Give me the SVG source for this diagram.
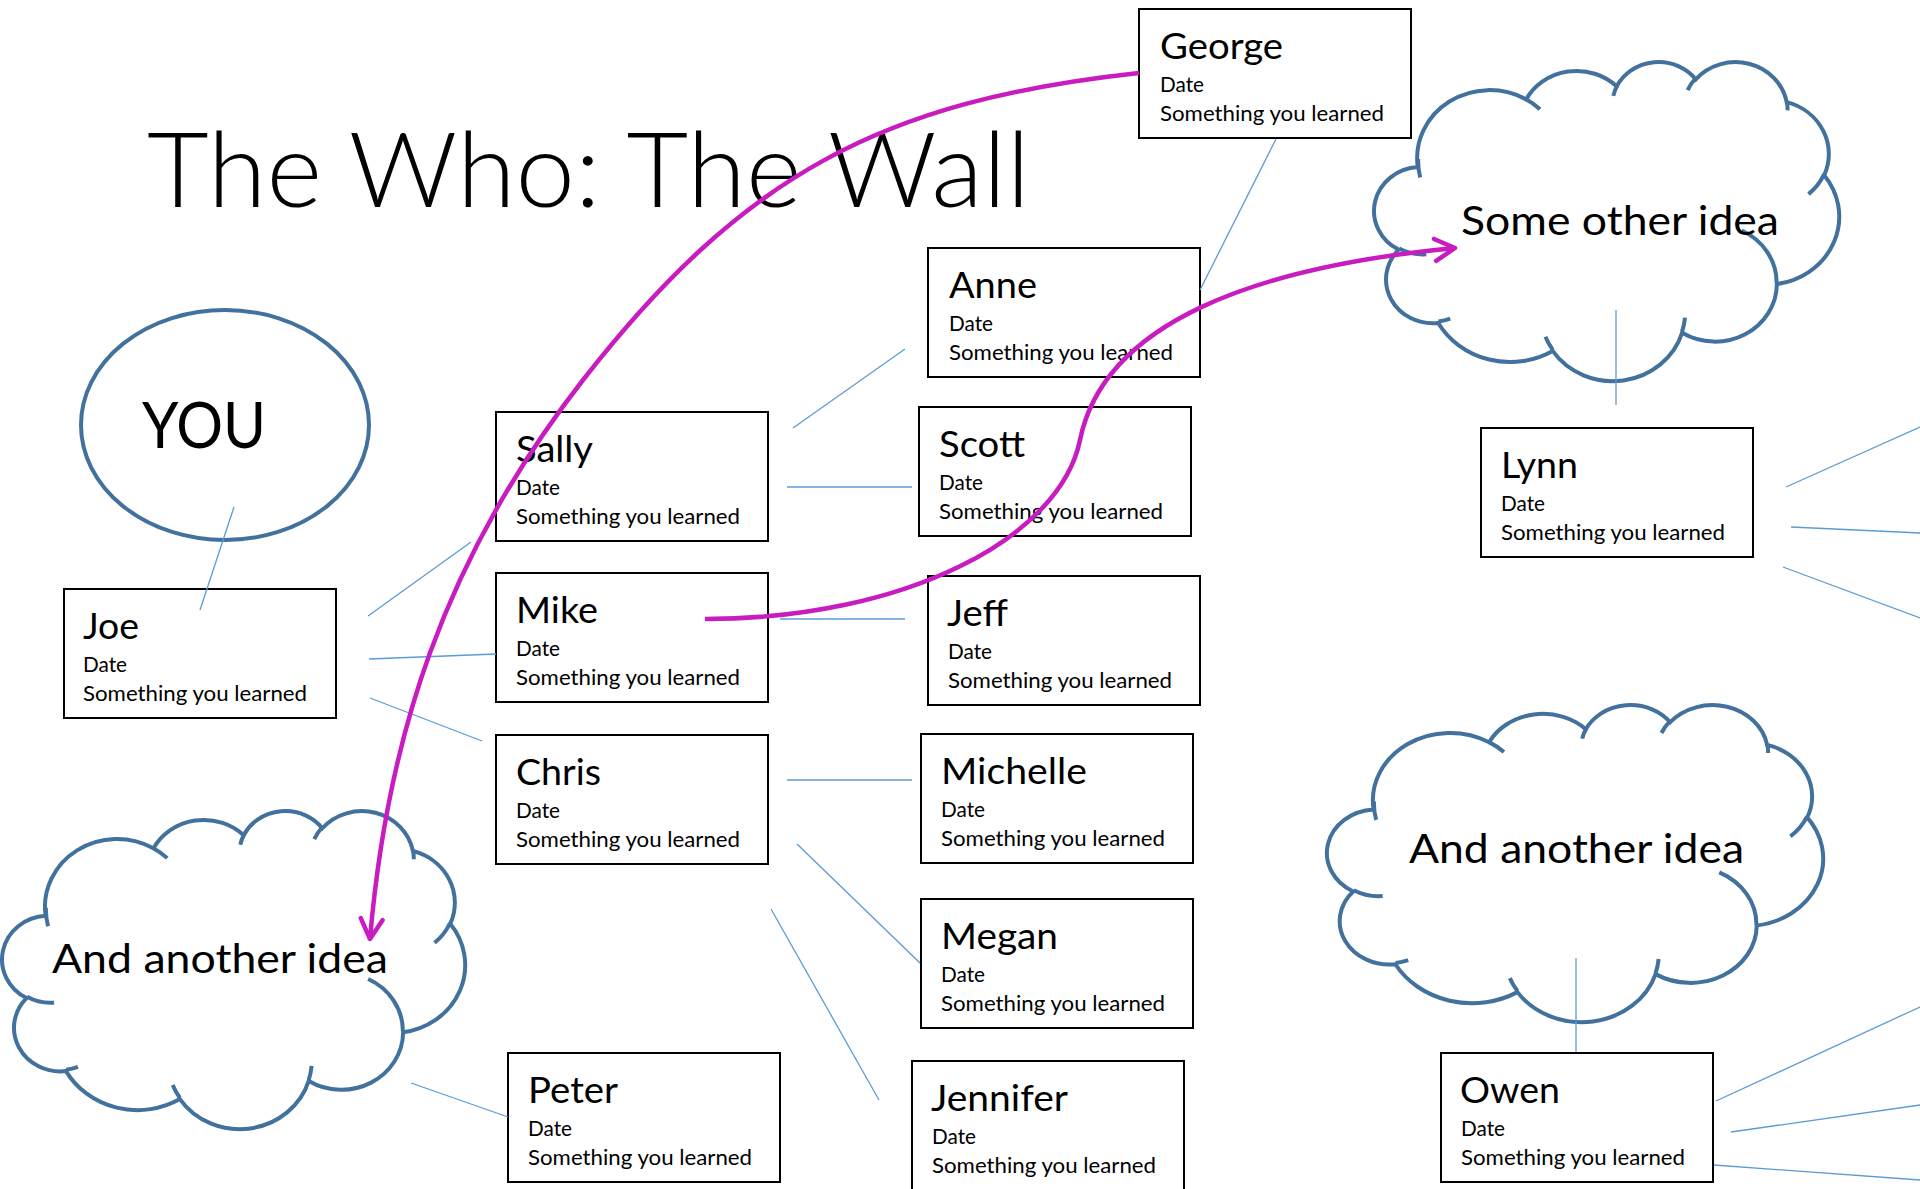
<svg xmlns="http://www.w3.org/2000/svg" xmlns:xlink="http://www.w3.org/1999/xlink" width="1920" height="1189" viewBox="0 0 1920 1189">
<style>
  text { font-family: Lato, "Open Sans", "Liberation Sans", sans-serif; fill: #000; }
  .box { fill: #fff; stroke: #000; stroke-width: 2; }
  .nm { font-size: 37px; }
  .sm { font-size: 21px; }
  .big { font-size: 41px; }
  .shape { fill: #fff; stroke: #41719C; stroke-width: 4; }
  .conn line { stroke: #5B9BD5; stroke-width: 1.3; }
  .hl path { fill: none; stroke: #C81CC0; stroke-width: 4.5; marker-end: url(#ah); }
</style>
<defs>
  <marker id="ah" markerUnits="userSpaceOnUse" viewBox="-26 -16 32 32" markerWidth="32" markerHeight="32" refX="0" refY="0" orient="auto">
    <path d="M-20,-11 L0,0 L-20,11" fill="none" stroke="#C81CC0" stroke-width="4.5" stroke-linejoin="round" stroke-linecap="round"/>
  </marker>
  <g id="cloudShape">
    <path vector-effect="non-scaling-stroke" fill="#fff" stroke="#41719C" stroke-width="4" d="M3900 14370 A6753 9190 0 0 1 14005 5202 A5333 7267 0 0 1 22456 3433 A4365 5945 0 0 1 29834 2482 A4857 6595 0 0 1 38319 5577 A5333 7273 0 0 1 41819 15460 A6775 9220 0 0 1 37404 30202 A5785 7867 0 0 1 28556 36812 A6752 9215 0 0 1 16481 39265 A7720 10543 0 0 1 5805 35470 A4360 5918 0 0 1 2113 25548 A4345 5945 0 0 1 3900 14370 Z"/>
    <path vector-effect="non-scaling-stroke" fill="none" stroke="#41719C" stroke-width="4" d="M4693 26177 A4345 5945 0 0 1 2160 25380 M6928 34899 A4360 5918 0 0 1 5820 35281 M16478 39090 A6752 9215 0 0 1 15810 37348 M28827 34751 A6752 9215 0 0 1 28560 36660 M34129 22954 A5785 7867 0 0 1 37380 30090 M41798 15354 A5333 7273 0 0 1 40350 18030 M38324 5426 A4857 6595 0 0 1 38401 6690 M29078 3952 A4857 6595 0 0 1 29820 2340 M22141 4720 A4365 5945 0 0 1 22500 3331 M14000 5192 A6753 9190 0 0 1 15300 6540 M4127 15789 A6753 9190 0 0 1 3932 13267"/>
  </g>
</defs>

<rect x="0" y="0" width="1920" height="1189" fill="#fff"/>

<g id="title">
  <text x="147" y="207" font-size="105" font-weight="300" textLength="883" lengthAdjust="spacingAndGlyphs">The Who: The Wall</text>
</g>

<g id="node-you">
  <ellipse class="shape" cx="225" cy="425" rx="144" ry="115"/>
  <text x="142" y="448" font-size="63" textLength="124" lengthAdjust="spacingAndGlyphs">YOU</text>
</g>

<g id="node-cloud-some-other-idea">
  <use xlink:href="#cloudShape" transform="translate(1376 61) scale(0.010718 0.0073843)"/>
  <text class="big" x="1461" y="235" textLength="318" lengthAdjust="spacingAndGlyphs">Some other idea</text>
</g>

<g id="node-cloud-left">
  <use xlink:href="#cloudShape" transform="translate(4 810) scale(0.010671 0.0073611)"/>
  <text class="big" x="52" y="973" textLength="336" lengthAdjust="spacingAndGlyphs">And another idea</text>
</g>

<g id="node-cloud-right">
  <use xlink:href="#cloudShape" transform="translate(1329 704) scale(0.011435 0.007338)"/>
  <text class="big" x="1409" y="863" textLength="335" lengthAdjust="spacingAndGlyphs">And another idea</text>
</g>

<g id="node-george">
  <rect class="box" x="1139" y="9" width="272" height="129"/>
  <text class="nm" x="1160" y="59" textLength="123" lengthAdjust="spacingAndGlyphs">George</text>
  <text class="sm" x="1160" y="92" textLength="44" lengthAdjust="spacingAndGlyphs">Date</text>
  <text class="sm" x="1160" y="121" textLength="224" lengthAdjust="spacingAndGlyphs">Something you learned</text>
</g>
<g id="node-anne">
  <rect class="box" x="928" y="248" width="272" height="129"/>
  <text class="nm" x="949" y="298" textLength="88" lengthAdjust="spacingAndGlyphs">Anne</text>
  <text class="sm" x="949" y="331" textLength="44" lengthAdjust="spacingAndGlyphs">Date</text>
  <text class="sm" x="949" y="360" textLength="224" lengthAdjust="spacingAndGlyphs">Something you learned</text>
</g>
<g id="node-sally">
  <rect class="box" x="496" y="412" width="272" height="129"/>
  <text class="nm" x="516" y="462" textLength="77" lengthAdjust="spacingAndGlyphs">Sally</text>
  <text class="sm" x="516" y="495" textLength="44" lengthAdjust="spacingAndGlyphs">Date</text>
  <text class="sm" x="516" y="524" textLength="224" lengthAdjust="spacingAndGlyphs">Something you learned</text>
</g>
<g id="node-scott">
  <rect class="box" x="919" y="407" width="272" height="129"/>
  <text class="nm" x="939" y="457" textLength="86" lengthAdjust="spacingAndGlyphs">Scott</text>
  <text class="sm" x="939" y="490" textLength="44" lengthAdjust="spacingAndGlyphs">Date</text>
  <text class="sm" x="939" y="519" textLength="224" lengthAdjust="spacingAndGlyphs">Something you learned</text>
</g>
<g id="node-mike">
  <rect class="box" x="496" y="573" width="272" height="129"/>
  <text class="nm" x="516" y="623" textLength="82" lengthAdjust="spacingAndGlyphs">Mike</text>
  <text class="sm" x="516" y="656" textLength="44" lengthAdjust="spacingAndGlyphs">Date</text>
  <text class="sm" x="516" y="685" textLength="224" lengthAdjust="spacingAndGlyphs">Something you learned</text>
</g>
<g id="node-jeff">
  <rect class="box" x="928" y="576" width="272" height="129"/>
  <text class="nm" x="947" y="626" textLength="61" lengthAdjust="spacingAndGlyphs">Jeff</text>
  <text class="sm" x="948" y="659" textLength="44" lengthAdjust="spacingAndGlyphs">Date</text>
  <text class="sm" x="948" y="688" textLength="224" lengthAdjust="spacingAndGlyphs">Something you learned</text>
</g>
<g id="node-joe">
  <rect class="box" x="64" y="589" width="272" height="129"/>
  <text class="nm" x="83" y="639" textLength="56" lengthAdjust="spacingAndGlyphs">Joe</text>
  <text class="sm" x="83" y="672" textLength="44" lengthAdjust="spacingAndGlyphs">Date</text>
  <text class="sm" x="83" y="701" textLength="224" lengthAdjust="spacingAndGlyphs">Something you learned</text>
</g>
<g id="node-chris">
  <rect class="box" x="496" y="735" width="272" height="129"/>
  <text class="nm" x="516" y="785" textLength="85" lengthAdjust="spacingAndGlyphs">Chris</text>
  <text class="sm" x="516" y="818" textLength="44" lengthAdjust="spacingAndGlyphs">Date</text>
  <text class="sm" x="516" y="847" textLength="224" lengthAdjust="spacingAndGlyphs">Something you learned</text>
</g>
<g id="node-michelle">
  <rect class="box" x="921" y="734" width="272" height="129"/>
  <text class="nm" x="941" y="784" textLength="146" lengthAdjust="spacingAndGlyphs">Michelle</text>
  <text class="sm" x="941" y="817" textLength="44" lengthAdjust="spacingAndGlyphs">Date</text>
  <text class="sm" x="941" y="846" textLength="224" lengthAdjust="spacingAndGlyphs">Something you learned</text>
</g>
<g id="node-megan">
  <rect class="box" x="921" y="899" width="272" height="129"/>
  <text class="nm" x="941" y="949" textLength="117" lengthAdjust="spacingAndGlyphs">Megan</text>
  <text class="sm" x="941" y="982" textLength="44" lengthAdjust="spacingAndGlyphs">Date</text>
  <text class="sm" x="941" y="1011" textLength="224" lengthAdjust="spacingAndGlyphs">Something you learned</text>
</g>
<g id="node-jennifer">
  <rect class="box" x="912" y="1061" width="272" height="129"/>
  <text class="nm" x="931" y="1111" textLength="137" lengthAdjust="spacingAndGlyphs">Jennifer</text>
  <text class="sm" x="932" y="1144" textLength="44" lengthAdjust="spacingAndGlyphs">Date</text>
  <text class="sm" x="932" y="1173" textLength="224" lengthAdjust="spacingAndGlyphs">Something you learned</text>
</g>
<g id="node-peter">
  <rect class="box" x="508" y="1053" width="272" height="129"/>
  <text class="nm" x="528" y="1103" textLength="90" lengthAdjust="spacingAndGlyphs">Peter</text>
  <text class="sm" x="528" y="1136" textLength="44" lengthAdjust="spacingAndGlyphs">Date</text>
  <text class="sm" x="528" y="1165" textLength="224" lengthAdjust="spacingAndGlyphs">Something you learned</text>
</g>
<g id="node-lynn">
  <rect class="box" x="1481" y="428" width="272" height="129"/>
  <text class="nm" x="1501" y="478" textLength="77" lengthAdjust="spacingAndGlyphs">Lynn</text>
  <text class="sm" x="1501" y="511" textLength="44" lengthAdjust="spacingAndGlyphs">Date</text>
  <text class="sm" x="1501" y="540" textLength="224" lengthAdjust="spacingAndGlyphs">Something you learned</text>
</g>
<g id="node-owen">
  <rect class="box" x="1441" y="1053" width="272" height="129"/>
  <text class="nm" x="1460" y="1103" textLength="100" lengthAdjust="spacingAndGlyphs">Owen</text>
  <text class="sm" x="1461" y="1136" textLength="44" lengthAdjust="spacingAndGlyphs">Date</text>
  <text class="sm" x="1461" y="1165" textLength="224" lengthAdjust="spacingAndGlyphs">Something you learned</text>
</g>

<g id="connectors" class="conn">
  <line x1="1276" y1="139" x2="1200" y2="290"/>
  <line x1="793" y1="428" x2="905" y2="349"/>
  <line x1="787" y1="487" x2="912" y2="487"/>
  <line x1="780" y1="619" x2="905" y2="619"/>
  <line x1="787" y1="780" x2="912" y2="780"/>
  <line x1="797" y1="844" x2="920" y2="963"/>
  <line x1="771" y1="909" x2="879" y2="1100"/>
  <line x1="368" y1="616" x2="471" y2="542"/>
  <line x1="369" y1="659" x2="496" y2="654"/>
  <line x1="370" y1="698" x2="482" y2="741"/>
  <line x1="234" y1="507" x2="200" y2="610"/>
  <line x1="411" y1="1083" x2="508" y2="1117"/>
  <line x1="1616" y1="310" x2="1616" y2="405"/>
  <line x1="1786" y1="487" x2="1920" y2="427"/>
  <line x1="1791" y1="527" x2="1920" y2="533"/>
  <line x1="1783" y1="567" x2="1920" y2="618"/>
  <line x1="1576" y1="958" x2="1576" y2="1052"/>
  <line x1="1716" y1="1101" x2="1920" y2="1007"/>
  <line x1="1731" y1="1132" x2="1920" y2="1105"/>
  <line x1="1714" y1="1165" x2="1920" y2="1180"/>
</g>

<g id="highlight-arrows" class="hl">
  <path d="M1139,73 C881,101 743,175 583,380 C442,561 387,740 370,939"/>
  <path d="M705,619 C905,619 1060,538 1080,440 C1104,322 1256,267 1455,248"/>
</g>
</svg>
